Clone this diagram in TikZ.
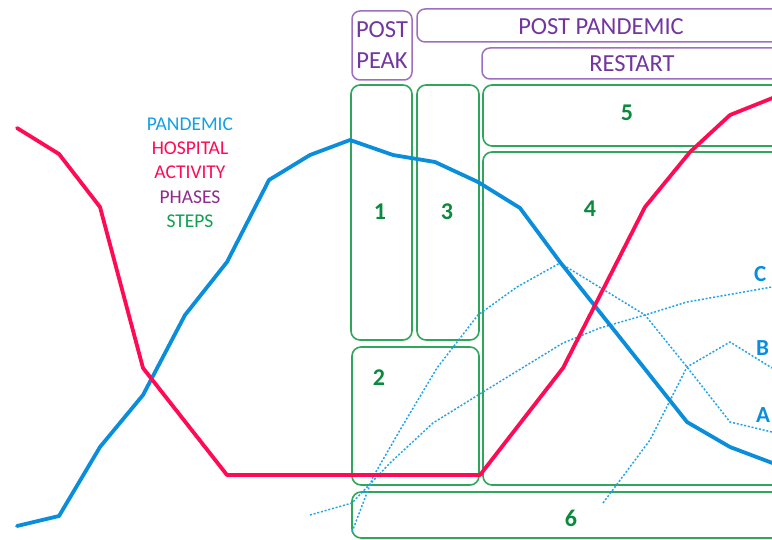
\documentclass[tikz,border=0pt]{standalone}
\usepackage{fontspec}
\setmainfont{Carlito}
\definecolor{pandblue}{HTML}{0A8EDC}
\definecolor{hospred}{HTML}{FF0A54}
\definecolor{phasepurple}{HTML}{7336A0}
\definecolor{phaseline}{HTML}{9C6FC0}
\definecolor{stepline}{HTML}{2FA65C}
\definecolor{stepgreen}{HTML}{0A8A3C}
\definecolor{dotblue}{HTML}{22A4EA}
\definecolor{legblue}{HTML}{12A0E6}
\definecolor{legpurple}{HTML}{8E2B8C}
\definecolor{leggreen}{HTML}{10A050}
\begin{document}
\begin{tikzpicture}[x=1pt,y=-1pt,
 stepbox/.style={draw=stepline,line width=1.6pt,rounded corners=9pt},
 phasebox/.style={draw=phaseline,line width=1.5pt,rounded corners=8pt},
 phasetext/.style={text=phasepurple,font=\fontsize{24.5}{31}\selectfont,align=center,inner sep=0},
 steptext/.style={text=stepgreen,font=\bfseries\fontsize{24}{28}\selectfont,inner sep=0},
 curveline/.style={line width=3.8pt,line join=round,line cap=round},
 scenario/.style={dotblue,line width=1.5pt,dash pattern=on 2pt off 1.8pt},
 legend/.style={font=\fontsize{19.5}{24}\selectfont,inner sep=0},
 abc/.style={text=pandblue,font=\bfseries\fontsize{23}{26}\selectfont,inner sep=0,anchor=west}]
\useasboundingbox (0,0) rectangle (772,540);
\clip (0,0) rectangle (772,540);

% phase boxes
\draw[phasebox] (352,11) rectangle (412,80);
\draw[phasebox] (417,9) rectangle (800,42);
\draw[phasebox] (482,48) rectangle (800,79);
\node[phasetext] (postpeak) at (382,45) {POST\\PEAK};
\node[phasetext] (postpand) at (601,27) {POST PANDEMIC};
\node[phasetext] (restart) at (632,64) {RESTART};

% step boxes
\draw[stepbox] (351,85) rectangle (412,340);
\draw[stepbox] (417,85) rectangle (479,340);
\draw[stepbox] (352,347) rectangle (479,485);
\draw[stepbox] (483,152) rectangle (800,485);
\draw[stepbox] (483,85) rectangle (800,146);
\draw[stepbox] (352,492) rectangle (800,538);
\node[steptext] (s1) at (380,212) {1};
\node[steptext] (s3) at (447,212) {3};
\node[steptext] (s5) at (627,113) {5};
\node[steptext] (s4) at (590,209) {4};
\node[steptext] (s2) at (379,378) {2};
\node[steptext] (s6) at (571,518) {6};

% legend
\node[legend,text=legblue] (lpand) at (190,124) {PANDEMIC};
\node[legend,text=hospred] (lhosp) at (190,148) {HOSPITAL};
\node[legend,text=hospred] (lact) at (190,172) {ACTIVITY};
\node[legend,text=legpurple] (lphase) at (190,197) {PHASES};
\node[legend,text=leggreen] (lstep) at (190,221) {STEPS};

% scenario curves
\draw[scenario] (310,515) -- (352,503) -- (390,463) -- (433,423) -- (483,392) -- (563,343) -- (600,328) -- (645,315) -- (687,302) -- (772,287);
\draw[scenario] (352,532) -- (373,477) -- (400,430) -- (437,368) -- (478,315) -- (517,287) -- (560,263) -- (645,315) -- (687,367) -- (730,422) -- (772,432);
\draw[scenario] (603,503) -- (650,440) -- (687,367) -- (730,342) -- (772,368);
\node[abc] (lc) at (754,274) {C};
\node[abc] (lb) at (756,348) {B};
\node[abc] (la) at (756,415) {A};

% pandemic curve
\draw[curveline,pandblue] (17,526) -- (59,516) -- (100,447) -- (143,395) -- (185,315) -- (227,262) -- (269,180) -- (310,155) -- (350,140) -- (393,155) -- (435,162) -- (478,182) -- (520,208) -- (560,262) -- (687,422) -- (730,447) -- (775,464);
% hospital activity curve
\draw[curveline,hospred] (17,128) -- (59,154) -- (100,207) -- (143,368) -- (227,475) -- (480,475) -- (563,368) -- (645,207) -- (690,152) -- (730,115) -- (775,97);
\end{tikzpicture}
\end{document}
